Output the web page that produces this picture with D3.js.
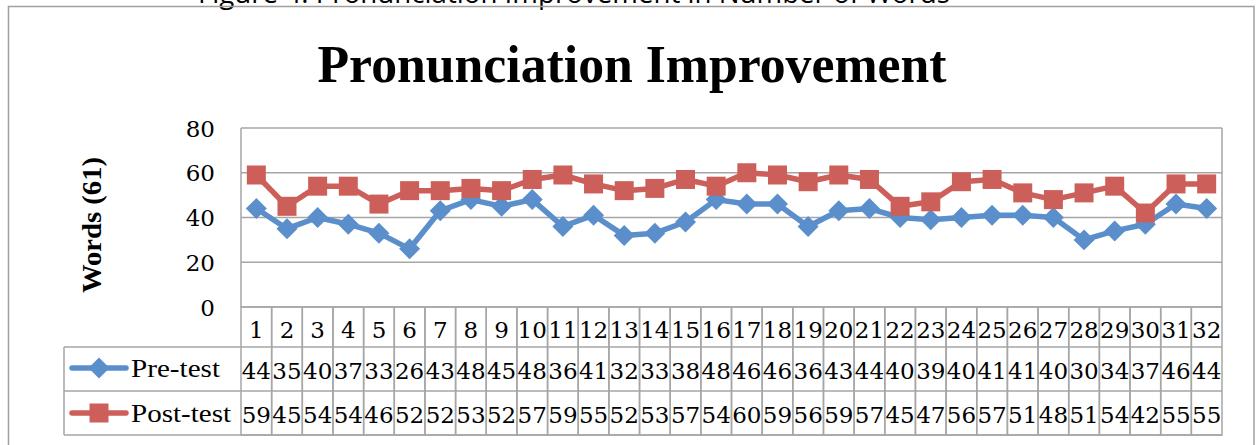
<!DOCTYPE html>
<html><head><meta charset="utf-8">
<script src="https://cdn.jsdelivr.net/npm/d3@7"></script>
<style>body{margin:0;background:#fff;overflow:hidden}</style>
</head><body>
<svg id="c" width="1257" height="445"></svg>
<script>
const categories = d3.range(1, 33).map(String);
const preTest = [44,35,40,37,33,26,43,48,45,48,36,41,32,33,38,48,46,46,36,43,44,40,39,40,41,41,40,30,34,37,46,44];
const postTest = [59,45,54,54,46,52,52,53,52,57,59,55,52,53,57,54,60,59,56,59,57,45,47,56,57,51,48,51,54,42,55,55];
const yTicks = [0,20,40,60,80];
const seriesNames = ["Pre-test","Post-test"];

(function(){
const svg = d3.select("#c");
const serif = "'Liberation Serif', 'DejaVu Serif', serif";
const wide = "'DejaVu Serif', serif";
const gridCol = "#a6a6a6";
const blue = "#5b8fcb", red = "#cd5f5a";

svg.append("text").attr("x", 574).attr("y", 3).attr("text-anchor","middle")
  .attr("font-family","'Open Sans', sans-serif").attr("font-size",27).attr("fill","#000")
  .attr("textLength",752).attr("lengthAdjust","spacingAndGlyphs")
  .text("Figure 4. Pronunciation Improvement in Number of Words");

svg.append("rect").attr("x",8.5).attr("y",6.5).attr("width",1245.5).attr("height",460)
  .attr("fill","none").attr("stroke","#a0a0a0").attr("stroke-width",1.5);

const pL = 241, pR = 1222, pT = 128, pB = 307;
const x = d3.scaleBand().domain(categories).range([pL, pR]).padding(0);
const y = d3.scaleLinear().domain([0,80]).range([pB, pT]);

svg.append("g").selectAll("line").data(yTicks).join("line")
  .attr("x1", pL).attr("x2", pR).attr("y1", d=>y(d)).attr("y2", d=>y(d))
  .attr("stroke", gridCol).attr("stroke-width",1.5);
svg.append("line").attr("x1",pL).attr("x2",pL).attr("y1",pT).attr("y2",pB).attr("stroke",gridCol).attr("stroke-width",1.5);
svg.append("line").attr("x1",pR).attr("x2",pR).attr("y1",pT).attr("y2",pB).attr("stroke",gridCol).attr("stroke-width",1.5);

const yAxis = svg.append("g").attr("transform",`translate(${pL},0)`)
  .call(d3.axisLeft(y).tickValues(yTicks).tickSize(0).tickPadding(26));
yAxis.select(".domain").remove();
yAxis.selectAll("text").attr("font-family",wide).attr("font-size",23).attr("fill","#000").attr("dy","0.35em");

svg.append("text").attr("transform","translate(101,225) rotate(-90)").attr("text-anchor","middle")
  .attr("font-family",serif).attr("font-weight","bold").attr("font-size",28)
  .attr("textLength",136).attr("lengthAdjust","spacingAndGlyphs").text("Words (61)");

svg.append("text").attr("x",632).attr("y",82).attr("text-anchor","middle")
  .attr("font-family",serif).attr("font-weight","bold").attr("font-size",52)
  .attr("textLength",629).attr("lengthAdjust","spacingAndGlyphs")
  .text("Pronunciation Improvement");

const cx = d => x(d) + x.bandwidth()/2;
const line = d3.line().x((d,i)=>cx(categories[i])).y(d=>y(d));
svg.append("path").datum(preTest).attr("d",line).attr("fill","none").attr("stroke",blue).attr("stroke-width",5.5).attr("stroke-linejoin","round");
svg.append("path").datum(postTest).attr("d",line).attr("fill","none").attr("stroke",red).attr("stroke-width",5.5).attr("stroke-linejoin","round");

const diamond = d3.symbol().type(d3.symbolSquare).size(220);
const sq = 19;
svg.append("g").selectAll("path").data(preTest).join("path")
  .attr("d", diamond).attr("fill", blue)
  .attr("transform",(d,i)=>`translate(${cx(categories[i])},${y(d)}) rotate(45)`);
svg.append("g").selectAll("rect").data(postTest).join("rect")
  .attr("x",(d,i)=>cx(categories[i])-sq/2).attr("y",d=>y(d)-sq/2).attr("width",sq).attr("height",sq).attr("fill",red);

const rowB = [307, 347, 391, 435];
const tg = svg.append("g");
tg.selectAll("rect.h").data(categories).join("rect")
  .attr("x", d=>x(d)).attr("y", rowB[0]).attr("width", x.bandwidth()).attr("height", rowB[3]-rowB[0])
  .attr("fill","none").attr("stroke",gridCol).attr("stroke-width",1.5);
[1,2,3].forEach(r=>{
  tg.append("line").attr("x1",64).attr("x2",pR).attr("y1",rowB[r]).attr("y2",rowB[r]).attr("stroke",gridCol).attr("stroke-width",1.5);
});
tg.append("line").attr("x1",64).attr("x2",64).attr("y1",rowB[1]).attr("y2",rowB[3]).attr("stroke",gridCol).attr("stroke-width",1.5);

tg.append("g").selectAll("text").data(categories).join("text")
  .attr("x", d=>cx(d)).attr("y", 338).attr("text-anchor","middle")
  .attr("font-family",wide).attr("font-size",23).text(d=>d);
[[preTest,379],[postTest,423]].forEach(([arr,yy])=>{
  tg.append("g").selectAll("text").data(arr).join("text")
    .attr("x",(d,i)=>cx(categories[i])).attr("y",yy).attr("text-anchor","middle")
    .attr("font-family",wide).attr("font-size",23).text(d=>d);
});

const lg = [[seriesNames[0],368,blue,"d",89],[seriesNames[1],413,red,"s",100]];
lg.forEach(([name,yy,col,m,w])=>{
  svg.append("line").attr("x1",72).attr("x2",126).attr("y1",yy).attr("y2",yy).attr("stroke",col).attr("stroke-width",5.5).attr("stroke-linecap","round");
  if (m==="d") svg.append("path").attr("d",diamond).attr("fill",col).attr("transform",`translate(99,${yy}) rotate(45)`);
  else svg.append("rect").attr("x",99-sq/2).attr("y",yy-sq/2).attr("width",sq).attr("height",sq).attr("fill",col);
  svg.append("text").attr("x",131).attr("y",yy+9).attr("font-family",serif).attr("font-size",26)
    .attr("textLength",w).attr("lengthAdjust","spacingAndGlyphs").text(name);
});
})();
</script>
</body></html>
